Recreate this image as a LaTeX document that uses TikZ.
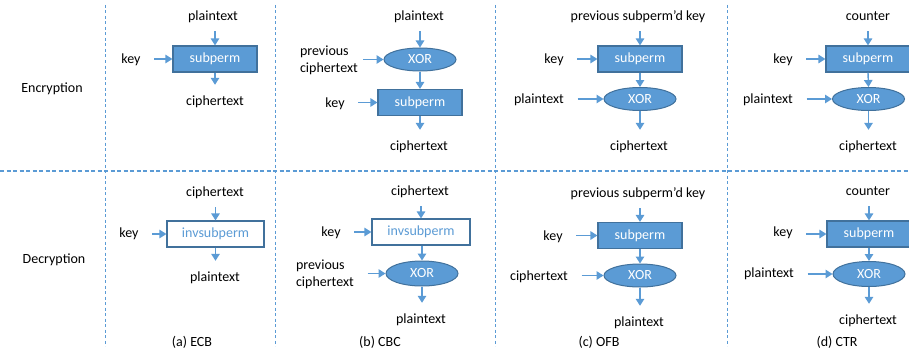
\documentclass[tikz,border=0pt]{standalone}
\usepackage{fontspec}
\setmainfont{Carlito}
\usetikzlibrary{shapes.geometric,arrows.meta}
\definecolor{mblue}{HTML}{5B9BD5}
\definecolor{dblue}{HTML}{41719C}
\begin{document}
\begin{tikzpicture}[x=1pt,y=-1pt,
  font=\fontsize{14}{17}\selectfont,
  tfont/.style={inner sep=0pt, text=black},
  tlab/.style={tfont, text height=10pt, text depth=3pt},
  multiline/.style={tfont, align=left},
  pbox/.style={draw=dblue, line width=1.2pt, fill=mblue, text=white, minimum width=84pt, minimum height=26pt, inner sep=0pt},
  ibox/.style={draw=dblue, line width=1.2pt, fill=white, text=mblue, minimum width=97pt, minimum height=26pt, inner sep=0pt},
  xnode/.style={ellipse, draw=dblue, line width=1pt, fill=mblue, text=white, minimum width=72pt, minimum height=23pt, inner sep=0pt},
  arr/.style={draw=mblue, line width=1.4pt, -{Triangle[length=7pt,width=8.5pt]}},
  harrow/.style={arr, shorten <=13.5pt},
  varrowin/.style={arr, shorten <=7.5pt},
  varrowout/.style={arr, shorten >=10.5pt},
  hdiv/.style={draw=mblue, line width=1.1pt, dash pattern=on 4pt off 2.5pt},
  vdiv/.style={draw=mblue, line width=1.3pt, dash pattern=on 3pt off 2.5pt},
  captxt/.style={tfont}
]
\useasboundingbox (0,0) rectangle (909,353);
% dividers
\draw[hdiv] (0,171) -- (909,171);
\foreach \xx in {105.5,275.5,495.5,727.5} \draw[vdiv] (\xx,5) -- (\xx,346);
% row labels
\node[tlab] (renc) at (52,89) {Encryption};
\node[tlab] (rdec) at (54,260) {Decryption};
% captions
\node[captxt] (ca) at (192,342) {(a) ECB};
\node[captxt] (cb) at (380,342) {(b) CBC};
\node[captxt] (cc) at (599,342) {(c) OFB};
\node[captxt] (cd) at (837,342) {(d) CTR};

% ===== ECB encryption
\node[tlab] (e1p) at (213,17) {plaintext};
\node[pbox] (e1b) at (215,59) {subperm};
\node[tlab] (e1k) at (131,60) {key};
\node[tlab] (e1c) at (215,102) {ciphertext};
\draw[varrowin] (e1b.north |- e1p.south) -- (e1b.north);
\draw[harrow] (e1b.west -| e1k.east) -- (e1b.west);
\draw[varrowout] (e1b.south) -- (e1b.south |- e1c.north);

% ===== CBC encryption
\node[tlab] (e2p) at (419,17) {plaintext};
\node[xnode] (e2x) at (420,59.5) {XOR};
\node[multiline, anchor=east] (e2pc) at (358,60.5) {previous\\ciphertext};
\node[pbox] (e2b) at (420,102.5) {subperm};
\node[tlab] (e2k) at (335,104) {key};
\node[tlab] (e2c) at (419,147) {ciphertext};
\draw[varrowin] (e2x.north |- e2p.south) -- (e2x.north);
\draw[arr, shorten <=5pt] (e2x.west -| e2pc.east) -- (e2x.west);
\draw[arr] (e2x.south) -- (e2b.north);
\draw[harrow] (e2b.west -| e2k.east) -- (e2b.west);
\draw[varrowout] (e2b.south) -- (e2b.south |- e2c.north);

% ===== OFB encryption
\node[tlab] (e3t) at (638,17) {previous subperm’d key};
\node[pbox] (e3b) at (640,59) {subperm};
\node[tlab] (e3k) at (554,60) {key};
\node[xnode] (e3x) at (640,99) {XOR};
\node[tlab] (e3pt) at (539,100) {plaintext};
\node[tlab] (e3c) at (639,147) {ciphertext};
\draw[varrowin] (e3b.north |- e3t.south) -- (e3b.north);
\draw[harrow] (e3b.west -| e3k.east) -- (e3b.west);
\draw[arr] (e3b.south) -- (e3x.north);
\draw[harrow] (e3x.west -| e3pt.east) -- (e3x.west);
\draw[varrowout] (e3x.south) -- (e3x.south |- e3c.north);

% ===== CTR encryption
\node[tlab] (e4t) at (868,17) {counter};
\node[pbox] (e4b) at (868,59) {subperm};
\node[tlab] (e4k) at (783,60) {key};
\node[xnode] (e4x) at (868.5,99) {XOR};
\node[tlab] (e4pt) at (768,100) {plaintext};
\node[tlab] (e4c) at (868,147) {ciphertext};
\draw[varrowin] (e4b.north |- e4t.south) -- (e4b.north);
\draw[harrow] (e4b.west -| e4k.east) -- (e4b.west);
\draw[arr] (e4b.south) -- (e4x.north);
\draw[harrow] (e4x.west -| e4pt.east) -- (e4x.west);
\draw[varrowout] (e4x.south) -- (e4x.south |- e4c.north);

% ===== ECB decryption
\node[tlab] (d1c) at (215,193) {ciphertext};
\node[ibox] (d1b) at (215.5,234) {invsubperm};
\node[tlab] (d1k) at (129,234) {key};
\node[tlab] (d1p) at (215,278) {plaintext};
\draw[varrowin] (d1b.north |- d1c.south) -- (d1b.north);
\draw[harrow] (d1b.west -| d1k.east) -- (d1b.west);
\draw[varrowout] (d1b.south) -- (d1b.south |- d1p.north);

% ===== CBC decryption
\node[tlab] (d2c) at (420,192) {ciphertext};
\node[ibox, minimum width=98pt] (d2b) at (421,232) {invsubperm};
\node[tlab] (d2k) at (331,233) {key};
\node[xnode, minimum height=25pt] (d2x) at (422,273.5) {XOR};
\node[multiline, anchor=east] (d2pc) at (354,274.5) {previous\\ciphertext};
\node[tlab] (d2p) at (421,320) {plaintext};
\draw[varrowin] (d2b.north |- d2c.south) -- (d2b.north);
\draw[harrow] (d2b.west -| d2k.east) -- (d2b.west);
\draw[arr] (d2b.south -| d2x.north) -- (d2x.north);
\draw[harrow] (d2x.west -| d2pc.east) -- (d2x.west);
\draw[varrowout] (d2x.south) -- (d2x.south |- d2p.north);

% ===== OFB decryption
\node[tlab] (d3t) at (638,194) {previous subperm’d key};
\node[pbox] (d3b) at (640,235.5) {subperm};
\node[tlab] (d3k) at (553,237) {key};
\node[xnode] (d3x) at (640,275.5) {XOR};
\node[tlab] (d3ct) at (539,277) {ciphertext};
\node[tlab] (d3p) at (639,323) {plaintext};
\draw[varrowin] (d3b.north |- d3t.south) -- (d3b.north);
\draw[harrow] (d3b.west -| d3k.east) -- (d3b.west);
\draw[arr] (d3b.south) -- (d3x.north);
\draw[harrow] (d3x.west -| d3ct.east) -- (d3x.west);
\draw[varrowout] (d3x.south) -- (d3x.south |- d3p.north);

% ===== CTR decryption
\node[tlab] (d4t) at (868,192) {counter};
\node[pbox] (d4b) at (869,234) {subperm};
\node[tlab] (d4k) at (783,233) {key};
\node[xnode, minimum height=25pt] (d4x) at (869,274) {XOR};
\node[tlab] (d4pt) at (769,274) {plaintext};
\node[tlab] (d4c) at (868,321) {ciphertext};
\draw[varrowin] (d4b.north |- d4t.south) -- (d4b.north);
\draw[harrow] (d4b.west -| d4k.east) -- (d4b.west);
\draw[arr] (d4b.south) -- (d4x.north);
\draw[harrow] (d4x.west -| d4pt.east) -- (d4x.west);
\draw[varrowout] (d4x.south) -- (d4x.south |- d4c.north);
\end{tikzpicture}
\end{document}
